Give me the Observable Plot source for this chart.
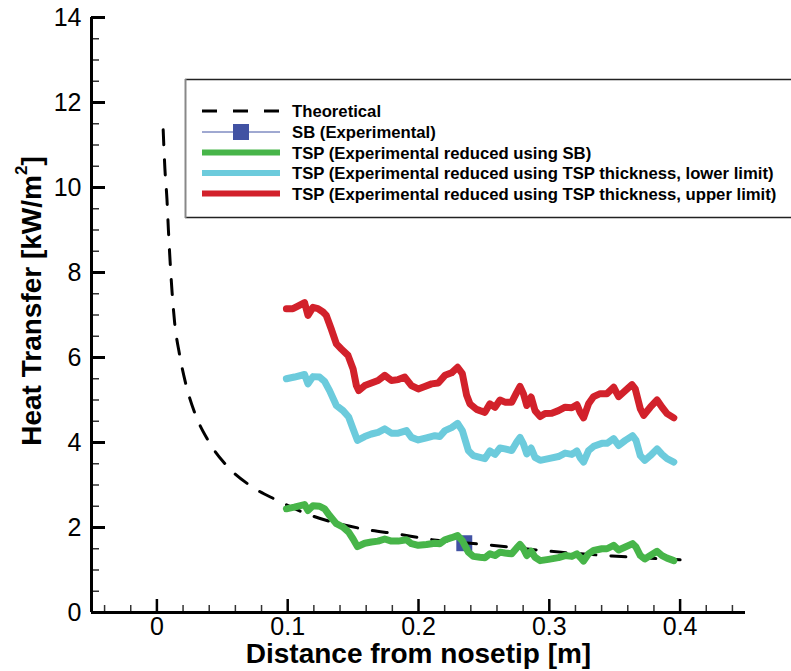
<!DOCTYPE html>
<html>
<head>
<meta charset="utf-8">
<script src="https://cdn.jsdelivr.net/npm/d3@7"></script>
<script src="https://cdn.jsdelivr.net/npm/@observablehq/plot@0.6"></script>
<style>
html,body{margin:0;padding:0;background:#fff;overflow:hidden;width:791px;height:671px}
#wrap{position:relative;width:791px;height:671px}
#chart{position:absolute;left:0;top:0}
#legend{position:absolute;left:0;top:0;pointer-events:none}
.ttl{position:absolute;font:bold 28px "Liberation Sans",Arial,sans-serif;color:#000;white-space:nowrap}
#xt{top:638px;left:46px;width:745px;text-align:center}
#yt{left:32px;top:301px;transform:translate(-50%,-50%) rotate(-90deg);transform-origin:center}
#yt sup{font-size:17px;vertical-align:top;position:relative;top:-4px}
</style>
</head>
<body>
<div id="wrap">
  <div id="chart"></div>
  <div class="ttl" id="xt">Distance from nosetip [m]</div>
  <div class="ttl" id="yt">Heat Transfer [kW/m<sup>2</sup>]</div>
  <div id="legend"></div>
</div>
<script>
// ---------- data ----------
const theoretical = [
  [0.0048,11.36],[0.0061,10.45],[0.0077,9.72],[0.0088,9.0],[0.0101,8.26],[0.0116,7.54],
  [0.0136,6.81],[0.0172,6.09],[0.022,5.39],[0.029,4.69],[0.0391,4.05],[0.0535,3.45],
  [0.0716,2.98],[0.0912,2.65],[0.114,2.33],[0.1605,1.95],[0.1835,1.85],[0.2065,1.73],
  [0.254,1.59],[0.301,1.44],[0.348,1.33],[0.4,1.24]
];
const sbExperimental = [[0.235,1.63]];
const tspSB = [
  [0.099,2.44],[0.105,2.48],[0.1129,2.54],[0.1155,2.40],[0.1193,2.51],[0.1244,2.50],[0.1282,2.44],
  [0.132,2.28],[0.1372,2.09],[0.1423,2.01],[0.1466,1.89],[0.15,1.73],[0.1533,1.55],[0.1589,1.63],
  [0.164,1.66],[0.1691,1.68],[0.1742,1.73],[0.1793,1.68],[0.1845,1.68],[0.1908,1.71],[0.1946,1.62],
  [0.1998,1.58],[0.2061,1.60],[0.2125,1.63],[0.2163,1.62],[0.2202,1.71],[0.2253,1.76],[0.2299,1.81],
  [0.2335,1.69],[0.2381,1.42],[0.2419,1.32],[0.247,1.30],[0.2508,1.29],[0.2546,1.38],[0.2585,1.34],
  [0.2623,1.42],[0.2661,1.40],[0.2713,1.38],[0.2751,1.52],[0.2776,1.60],[0.2802,1.50],[0.2828,1.34],
  [0.2861,1.44],[0.2891,1.30],[0.293,1.22],[0.2994,1.25],[0.307,1.29],[0.3121,1.34],[0.3172,1.32],
  [0.3211,1.38],[0.3236,1.30],[0.3262,1.21],[0.33,1.38],[0.3339,1.46],[0.3402,1.50],[0.3441,1.50],
  [0.3492,1.58],[0.353,1.47],[0.3581,1.54],[0.3637,1.62],[0.3663,1.54],[0.3696,1.34],[0.373,1.26],
  [0.3772,1.34],[0.3824,1.44],[0.3862,1.34],[0.39,1.28],[0.3952,1.22]
];
const tspLower = [
  [0.099,5.50],[0.1052,5.54],[0.1129,5.60],[0.1155,5.38],[0.1193,5.55],[0.1244,5.54],[0.1282,5.44],
  [0.132,5.22],[0.1372,4.87],[0.1423,4.75],[0.1466,4.60],[0.15,4.32],[0.1533,4.05],[0.1589,4.14],
  [0.164,4.20],[0.1691,4.24],[0.1742,4.32],[0.1793,4.22],[0.1845,4.22],[0.1908,4.28],[0.1946,4.12],
  [0.1998,4.06],[0.2061,4.11],[0.2125,4.16],[0.2163,4.14],[0.2202,4.28],[0.2253,4.35],[0.2299,4.45],
  [0.2335,4.28],[0.2381,3.81],[0.2419,3.69],[0.247,3.65],[0.2508,3.62],[0.2546,3.80],[0.2585,3.72],
  [0.2623,3.87],[0.2661,3.85],[0.2713,3.81],[0.2751,4.01],[0.2776,4.12],[0.2802,3.97],[0.2828,3.73],
  [0.2861,3.87],[0.2891,3.65],[0.293,3.58],[0.2994,3.62],[0.307,3.67],[0.3121,3.75],[0.3172,3.72],
  [0.3211,3.80],[0.3236,3.64],[0.3262,3.54],[0.33,3.81],[0.3339,3.91],[0.3402,3.98],[0.3441,3.98],
  [0.3492,4.09],[0.353,3.93],[0.3581,4.05],[0.3637,4.16],[0.3663,4.05],[0.3696,3.69],[0.373,3.58],
  [0.3772,3.69],[0.3824,3.85],[0.3862,3.72],[0.39,3.62],[0.3952,3.54]
];
const tspUpper = [
  [0.099,7.15],[0.1040,7.15],[0.1078,7.21],[0.1129,7.29],[0.1155,6.99],[0.1193,7.18],[0.1231,7.15],
  [0.127,7.07],[0.1295,6.99],[0.1333,6.67],[0.1372,6.32],[0.141,6.20],[0.1461,6.05],[0.15,5.73],
  [0.1525,5.34],[0.1543,5.22],[0.1589,5.34],[0.164,5.40],[0.1691,5.46],[0.1742,5.58],[0.1793,5.46],
  [0.1845,5.48],[0.1895,5.54],[0.1946,5.34],[0.1998,5.26],[0.2048,5.32],[0.21,5.38],[0.2151,5.40],
  [0.2202,5.58],[0.2253,5.64],[0.2299,5.77],[0.2335,5.62],[0.2368,5.11],[0.2393,4.91],[0.2444,4.78],
  [0.2470,4.75],[0.2508,4.71],[0.2546,4.91],[0.2585,4.83],[0.2623,5.00],[0.2661,4.95],[0.2713,4.95],
  [0.2751,5.18],[0.2776,5.32],[0.2802,5.15],[0.2828,4.87],[0.2861,5.07],[0.2891,4.75],[0.293,4.61],
  [0.2968,4.68],[0.3019,4.69],[0.307,4.75],[0.3121,4.83],[0.3172,4.82],[0.3211,4.89],[0.3236,4.71],
  [0.3262,4.58],[0.33,4.91],[0.3339,5.08],[0.3389,5.15],[0.3441,5.15],[0.3492,5.30],[0.353,5.08],
  [0.3581,5.22],[0.3632,5.36],[0.3657,5.26],[0.3696,4.79],[0.3722,4.64],[0.3772,4.83],[0.3824,5.00],
  [0.3862,4.83],[0.39,4.68],[0.3952,4.58]
];
const xMajorTicks = [0, 0.1, 0.2, 0.3, 0.4];
const xMinorTicks = [-0.04,-0.02,0.02,0.04,0.06,0.08,0.12,0.14,0.16,0.18,0.22,0.24,0.26,0.28,0.32,0.34,0.36,0.38,0.42,0.44];
const xTickLabels = ["0","0.1","0.2","0.3","0.4"];
const yMajorTicks = [0,2,4,6,8,10,12,14];
const yMinorTicks = [0.5,1,1.5,2.5,3,3.5,4.5,5,5.5,6.5,7,7.5,8.5,9,9.5,10.5,11,11.5,12.5,13,13.5];
const yTickLabels = ["0","2","4","6","8","10","12","14"];
const seriesNames = ["Theoretical","SB (Experimental)","TSP (Experimental reduced using SB)",
  "TSP (Experimental reduced using TSP thickness, lower limit)",
  "TSP (Experimental reduced using TSP thickness, upper limit)"];
const seriesColors = ["#000000","#4152a3","#47b549","#6ccbdc","#d2212b"];

// ---------- chart ----------
const tickFont = '"Liberation Sans Narrow","Arial Narrow","Liberation Sans",Arial,sans-serif';
const X = d => d[0], Y = d => d[1];
const plot = Plot.plot({
  width: 791, height: 671,
  marginLeft: 91, marginRight: 46, marginTop: 17, marginBottom: 59,
  style: {background: "#fff", color: "#000", overflow: "visible"},
  x: {domain: [-0.05, 0.45], label: null},
  y: {domain: [0, 14], label: null},
  marks: [
    Plot.dot(sbExperimental, {x: X, y: Y, symbol: "square", r: 9, fill: seriesColors[1], stroke: "none"}),
    Plot.line(theoretical, {x: X, y: Y, stroke: seriesColors[0], strokeWidth: 3, strokeDasharray: "15,15", curve: "monotone-x"}),
    Plot.line(tspSB, {x: X, y: Y, stroke: seriesColors[2], strokeWidth: 7, strokeLinejoin: "round"}),
    Plot.line(tspLower, {x: X, y: Y, stroke: seriesColors[3], strokeWidth: 7, strokeLinejoin: "round"}),
    Plot.line(tspUpper, {x: X, y: Y, stroke: seriesColors[4], strokeWidth: 7, strokeLinejoin: "round"}),
    // ticks (inward)
    Plot.axisX(xMinorTicks, {anchor: "bottom", tickSize: -7, strokeWidth: 1.5, stroke: "#333", fill: "none", label: null}),
    Plot.axisX(xMajorTicks, {anchor: "bottom", tickSize: -13, strokeWidth: 2.5, stroke: "#000", fill: "none", label: null}),
    Plot.axisY(yMinorTicks, {anchor: "left", tickSize: -8, strokeWidth: 1.5, stroke: "#333", fill: "none", label: null}),
    Plot.axisY(yMajorTicks, {anchor: "left", tickSize: -14, strokeWidth: 3, stroke: "#000", fill: "none", label: null}),
    // tick labels
    Plot.axisX(xMajorTicks, {anchor: "bottom", tickSize: 0, tickPadding: 5, fontSize: 25, fontFamily: tickFont,
      tickFormat: (d, i) => xTickLabels[i], label: null}),
    Plot.axisY(yMajorTicks, {anchor: "left", tickSize: 0, tickPadding: 10, fontSize: 25, fontFamily: tickFont,
      tickFormat: (d, i) => yTickLabels[i], label: null}),
    // axis lines
    Plot.ruleX([-0.05], {strokeWidth: 3}),
    Plot.ruleY([0], {strokeWidth: 3})
  ]
});
document.getElementById("chart").appendChild(plot);

// ---------- legend ----------
const L = d3.select("#legend").append("svg").attr("width", 791).attr("height", 671);
L.append("rect").attr("x", 185).attr("y", 79).attr("width", 620).attr("height", 139).attr("fill", "#fff");
L.append("line").attr("x1", 185).attr("x2", 791).attr("y1", 79.5).attr("y2", 79.5).attr("stroke", "#222").attr("stroke-width", 1.5);
L.append("line").attr("x1", 185).attr("x2", 791).attr("y1", 217.5).attr("y2", 217.5).attr("stroke", "#222").attr("stroke-width", 1.5);
L.append("line").attr("x1", 185.5).attr("x2", 185.5).attr("y1", 79).attr("y2", 218).attr("stroke", "#888").attr("stroke-width", 2);
const rowY = [111, 132, 152.5, 173, 193.5];
seriesNames.forEach((name, i) => {
  const y = rowY[i];
  const g = L.append("g");
  if (i === 0) {
    g.append("line").attr("x1", 202).attr("x2", 280).attr("y1", y).attr("y2", y)
      .attr("stroke", "#000").attr("stroke-width", 3).attr("stroke-dasharray", "15,16");
  } else if (i === 1) {
    g.append("line").attr("x1", 202).attr("x2", 280).attr("y1", y).attr("y2", y)
      .attr("stroke", seriesColors[1]).attr("stroke-width", 1);
    g.append("rect").attr("x", 233).attr("y", y - 8).attr("width", 16).attr("height", 16).attr("fill", seriesColors[1]);
  } else {
    g.append("line").attr("x1", 202).attr("x2", 280).attr("y1", y).attr("y2", y)
      .attr("stroke", seriesColors[i]).attr("stroke-width", 6);
  }
  g.append("text").attr("x", 292).attr("y", y).attr("dy", "0.36em")
    .attr("font-family", '"Liberation Sans",Arial,sans-serif').attr("font-weight", "bold").attr("font-size", 16.7)
    .attr("fill", "#000").text(name);
});
</script>
</body>
</html>
